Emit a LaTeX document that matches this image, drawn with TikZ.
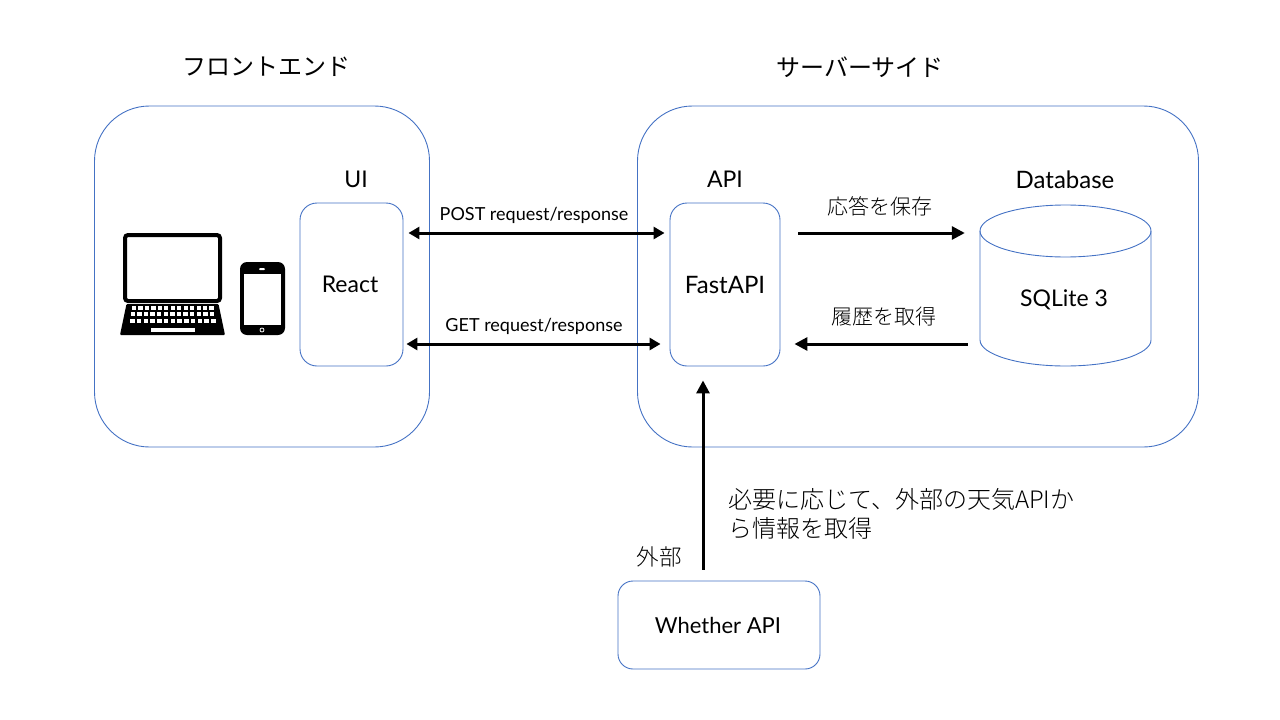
\documentclass[tikz,border=0pt]{standalone}
\usepackage{fontspec}
\setmainfont{Noto Sans CJK JP}
\newfontfamily\latinfont{Lato}
\newfontfamily\jpthin{Noto Sans CJK JP Light}
\usetikzlibrary{arrows.meta}
\definecolor{boxblue}{RGB}{68,114,196}
\tikzset{
	groupbox/.style={draw=boxblue, line width=0.9pt, rounded corners=55pt, minimum width=335pt, minimum height=341pt, inner sep=0pt},
	partbox/.style={draw=boxblue, line width=0.9pt, rounded corners=17pt, minimum height=163pt, inner sep=0pt, font=\latinfont\fontsize{23}{27}\selectfont},
	heading/.style={font=\fontsize{24}{28}\selectfont, inner sep=0pt},
	partname/.style={font=\latinfont\fontsize{23}{27}\selectfont, inner sep=0pt},
	reqname/.style={font=\latinfont\fontsize{18}{22}\selectfont, inner sep=0pt},
	jpname/.style={font=\jpthin\fontsize{21}{25}\selectfont, inner sep=0pt},
	link/.style={line width=3pt, -{Triangle[length=13pt,width=13pt]}},
	duallink/.style={line width=3pt, {Triangle[length=11pt,width=12pt]}-{Triangle[length=11pt,width=12pt]}},
}
\begin{document}
\begin{tikzpicture}[x=1pt,y=-1pt]
	\useasboundingbox (0,0) rectangle (1280,720);
	\node[groupbox] (front) at (262,276.5) {};
	\node[groupbox, minimum width=561pt] (server) at (918,276.5) {};
	\node[heading] (frontname) at (266,67) {フロントエンド};
	\node[heading] (servername) at (860,67) {サーバーサイド};
	\node[partbox, minimum width=103pt] (react) at (351.5,284.5) {\kern-3pt React};
	\node[partbox, minimum width=110pt, font=\latinfont\fontsize{24}{28}\selectfont] (fastapi) at (725,284.5) {FastAPI};
	\node[partname] (uiname) at (356,179) {UI};
	\node[partname] (apiname) at (725,179) {API};
	\node[partname, font=\latinfont\fontsize{24}{28}\selectfont] (dbname) at (1065,180) {Database};
	\node[partname, minimum width=171pt, minimum height=161pt] (sqlite) at (1065.5,285.5) {};
	\node[partname] (sqlitename) at (1064,299.5) {SQLite 3};
	\node[partbox, minimum width=202pt, minimum height=88pt, rounded corners=15pt, font=\latinfont\fontsize{22}{26}\selectfont] (whether) at (719,625) {\kern-2pt Whether API};
	\node[font=\jpthin\fontsize{22.5}{27}\selectfont, inner sep=0pt] (outname) at (659,557) {外部};
	\node[reqname] (postname) at (534,215) {POST request/response};
	\node[reqname] (getname) at (534,326) {GET request/response};
	\node[jpname] (savename) at (880,206) {応答を保存};
	\node[jpname] (loadname) at (884,317) {履歴を取得};
	\node[anchor=north west, align=left, inner sep=0pt, font=\jpthin\fontsize{24}{29}\selectfont] (weathernote) at (728,488) {必要に応じて、外部の天気APIか\\ら情報を取得};
	% database drum
	\draw[boxblue, line width=0.9pt] (1065.5,231) ellipse [x radius=85.5pt, y radius=26pt];
	\draw[boxblue, line width=0.9pt] (980,231) -- (980,340) arc [start angle=180, end angle=360, x radius=85.5pt, y radius=26pt] -- (1151,231);
	% rows and column of the arrows
	\coordinate (upperrow) at (0,233);
	\coordinate (lowerrow) at (0,344);
	\coordinate (apicol) at (703,0);
	\draw[duallink, shorten <=5pt, shorten >=5pt] (react.east |- upperrow) -- (fastapi.west |- upperrow);
	\draw[duallink, shorten <=3pt, shorten >=9pt] (react.east |- lowerrow) -- (fastapi.west |- lowerrow);
	\draw[link, shorten <=18pt, shorten >=15pt] (fastapi.east |- upperrow) -- (sqlite.west |- upperrow);
	\draw[link, shorten <=12pt, shorten >=14pt] (sqlite.west |- lowerrow) -- (fastapi.east |- lowerrow);
	\draw[link, shorten <=11pt, shorten >=14pt] (whether.north -| apicol) -- (fastapi.south -| apicol);
	% laptop
	\draw[line width=4pt, rounded corners=3pt] (125,235) rectangle (220,301);
	\fill[rounded corners=1pt] (126.5,304) -- (218.5,304) -- (225,335) -- (120,335) -- cycle;
	\foreach \col in {0,...,12} {
		\fill[white] (132+\col*6.45,306) rectangle +(4.2,4);
		\fill[white] (130.5+\col*6.6,312.4) rectangle +(4.4,4);
		\fill[white] (130+\col*6.75,319.3) rectangle +(4.6,4);
	}
	\fill[white] (150.7,327.7) rectangle (194.5,332);
	% phone
	\fill[rounded corners=7pt] (240,262) rectangle (285,335);
	\fill[white] (244,274) rectangle (281,325);
	\fill[white, rounded corners=1pt] (259,268) rectangle (265,270);
	\draw[white, line width=0.8pt] (262,330) circle (2pt);
\end{tikzpicture}
\end{document}
